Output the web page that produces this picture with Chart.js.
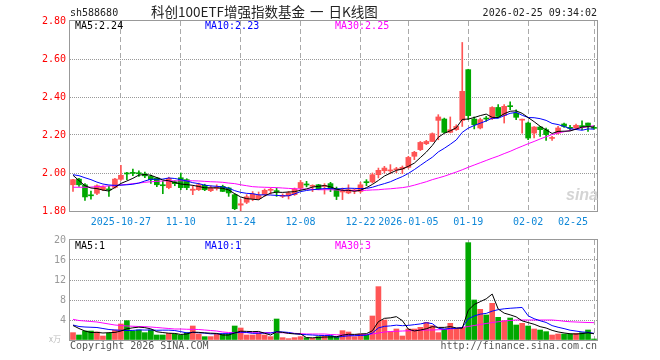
<!DOCTYPE html>
<html>
<head>
<meta charset="utf-8">
<script src="https://cdn.jsdelivr.net/npm/chart.js@4.4.1/dist/chart.umd.min.js"></script>
<style>
body { margin: 0; background: #fff; width: 660px; height: 360px; position: relative; overflow: hidden;
       font-family: "DejaVu Sans Mono", monospace; font-size: 10px; }
canvas { position: absolute; left: 0; }
#price { top: 0; }
#vol { top: 230px; }
.t { position: absolute; white-space: pre; line-height: 10px; }
</style>
</head>
<body>
<canvas id="price" width="660" height="230"></canvas>
<canvas id="vol" width="660" height="130"></canvas>

<div class="t" style="left:70px;top:8px;color:#222">sh588680</div>
<div class="t" style="left:151px;top:5px;color:#222;font:13.5px 'Noto Sans CJK SC';line-height:13.5px;word-spacing:2px">科创100ETF增强指数基金 一 日K线图</div>
<div class="t" style="right:63px;top:8px;color:#222">2026-02-25 09:34:02</div>

<div class="t" id="pMa5" style="left:75px;top:21px;color:#000"></div>
<div class="t" id="pMa10" style="left:205px;top:21px;color:#0000ff"></div>
<div class="t" id="pMa30" style="left:335px;top:21px;color:#ff00ff"></div>
<div class="t" style="left:566px;top:187px;color:#d4d4d4;font:italic bold 16px 'Liberation Sans';line-height:16px">sina</div>

<div class="t" id="vMa5" style="left:75px;top:241px;color:#000"></div>
<div class="t" id="vMa10" style="left:205px;top:241px;color:#0000ff"></div>
<div class="t" id="vMa30" style="left:335px;top:241px;color:#ff00ff"></div>
<div class="t" style="left:49px;top:335px;color:#bbb;font:8px 'Noto Sans CJK SC';line-height:8px">x万</div>
<div class="t" style="left:70px;top:341px;color:#555">Copyright 2026 SINA.COM</div>
<div class="t" style="right:63px;top:341px;color:#555">http://finance.sina.com.cn</div>

<script>
// trading days shown on the chart
const dates = [
  "2025-10-15","2025-10-16","2025-10-17","2025-10-20","2025-10-21","2025-10-22","2025-10-23","2025-10-24",
  "2025-10-27","2025-10-28","2025-10-29","2025-10-30","2025-10-31","2025-11-03","2025-11-04","2025-11-05",
  "2025-11-06","2025-11-07","2025-11-10","2025-11-11","2025-11-12","2025-11-13","2025-11-14","2025-11-17",
  "2025-11-18","2025-11-19","2025-11-20","2025-11-21","2025-11-24","2025-11-25","2025-11-26","2025-11-27",
  "2025-11-28","2025-12-01","2025-12-02","2025-12-03","2025-12-04","2025-12-05","2025-12-08","2025-12-09",
  "2025-12-10","2025-12-11","2025-12-12","2025-12-15","2025-12-16","2025-12-17","2025-12-18","2025-12-19",
  "2025-12-22","2025-12-23","2025-12-24","2025-12-25","2025-12-26","2025-12-29","2025-12-30","2025-12-31",
  "2026-01-05","2026-01-06","2026-01-07","2026-01-08","2026-01-09","2026-01-12","2026-01-13","2026-01-14",
  "2026-01-15","2026-01-16","2026-01-19","2026-01-20","2026-01-21","2026-01-22","2026-01-23","2026-01-26",
  "2026-01-27","2026-01-28","2026-01-29","2026-01-30","2026-02-02","2026-02-03","2026-02-04","2026-02-05",
  "2026-02-06","2026-02-09","2026-02-10","2026-02-11","2026-02-12","2026-02-13","2026-02-24","2026-02-25"
];

// dates that get a label and a dashed grid line
const tickDates = ["2025-10-27","2025-11-10","2025-11-24","2025-12-08","2025-12-22","2026-01-05","2026-01-19","2026-02-02","2026-02-25"];
const tickText  = ["2025-10-27","11-10","11-24","12-08","12-22","2026-01-05","01-19","02-02","02-25"];

const open = [
  1.938,1.968,1.938,1.884,1.893,1.912,1.915,1.924,1.967,2.000,
  2.001,2.000,1.995,1.982,1.974,1.937,1.923,1.954,1.975,1.965,
  1.909,1.912,1.935,1.907,1.919,1.930,1.921,1.886,1.831,1.846,
  1.865,1.865,1.886,1.909,1.905,1.877,1.880,1.886,1.921,1.940,
  1.930,1.938,1.930,1.944,1.916,1.900,1.895,1.905,1.903,1.953,
  1.953,1.991,2.012,2.011,2.017,2.021,2.030,2.088,2.123,2.154,
  2.166,2.277,2.284,2.214,2.228,2.277,2.544,2.284,2.237,2.287,
  2.286,2.345,2.303,2.353,2.316,2.278,2.263,2.210,2.242,2.228,
  2.182,2.210,2.258,2.238,2.237,2.247,2.263,2.238
];
const close = [
  1.965,1.938,1.874,1.880,1.933,1.926,1.911,1.968,1.988,1.995,
  1.998,1.996,1.985,1.965,1.938,1.933,1.972,1.944,1.923,1.923,
  1.915,1.938,1.912,1.921,1.923,1.903,1.895,1.812,1.838,1.875,
  1.890,1.882,1.909,1.914,1.902,1.882,1.895,1.916,1.950,1.937,
  1.933,1.916,1.933,1.916,1.877,1.905,1.912,1.911,1.938,1.949,
  1.991,2.014,2.026,2.016,2.021,2.030,2.082,2.109,2.161,2.166,
  2.207,2.295,2.214,2.228,2.245,2.430,2.302,2.254,2.281,2.284,
  2.345,2.298,2.351,2.349,2.293,2.281,2.184,2.242,2.228,2.202,
  2.186,2.237,2.245,2.235,2.251,2.244,2.245,2.235
];
const high = [
  1.967,1.972,1.944,1.905,1.938,1.933,1.930,1.972,2.040,2.003,
  2.021,2.012,2.005,1.989,1.977,1.956,1.978,1.959,2.000,1.970,
  1.933,1.947,1.941,1.933,1.938,1.936,1.925,1.891,1.862,1.886,
  1.902,1.900,1.916,1.921,1.921,1.890,1.903,1.921,1.961,1.956,
  1.938,1.940,1.944,1.951,1.926,1.921,1.938,1.916,1.951,1.965,
  2.000,2.026,2.035,2.044,2.030,2.037,2.088,2.114,2.166,2.172,
  2.211,2.307,2.289,2.295,2.254,2.687,2.546,2.295,2.289,2.298,
  2.349,2.360,2.360,2.374,2.333,2.284,2.268,2.244,2.245,2.237,
  2.193,2.245,2.263,2.251,2.258,2.275,2.263,2.249
];
const low = [
  1.903,1.929,1.856,1.862,1.886,1.907,1.877,1.920,1.961,1.965,
  1.986,1.982,1.975,1.945,1.928,1.891,1.917,1.933,1.912,1.912,
  1.886,1.908,1.907,1.902,1.910,1.902,1.877,1.807,1.798,1.839,
  1.854,1.860,1.877,1.889,1.877,1.870,1.863,1.882,1.912,1.927,
  1.902,1.912,1.889,1.902,1.860,1.860,1.891,1.891,1.895,1.933,
  1.947,1.974,2.000,1.996,2.002,1.996,2.026,2.070,2.118,2.149,
  2.165,2.175,2.211,2.211,2.224,2.245,2.281,2.232,2.232,2.272,
  2.281,2.293,2.263,2.333,2.281,2.210,2.175,2.184,2.193,2.172,
  2.172,2.205,2.240,2.223,2.233,2.228,2.219,2.231
];

const ma5 = [
  1.988,1.960,1.933,1.921,1.918,1.910,1.905,1.924,1.945,1.958,
  1.972,1.989,1.992,1.988,1.976,1.963,1.959,1.950,1.942,1.939,
  1.935,1.929,1.922,1.922,1.922,1.919,1.911,1.891,1.874,1.865,
  1.862,1.859,1.879,1.894,1.899,1.898,1.900,1.902,1.909,1.916,
  1.926,1.930,1.934,1.927,1.915,1.909,1.909,1.904,1.909,1.923,
  1.940,1.961,1.984,1.999,2.014,2.021,2.035,2.052,2.081,2.110,
  2.145,2.188,2.209,2.222,2.238,2.282,2.284,2.292,2.302,2.310,
  2.293,2.292,2.312,2.325,2.327,2.314,2.292,2.270,2.246,2.227,
  2.208,2.219,2.220,2.221,2.231,2.242,2.244,2.242
];
const ma10 = [
  1.991,1.986,1.975,1.965,1.952,1.942,1.937,1.935,1.936,1.938,
  1.941,1.947,1.958,1.967,1.967,1.968,1.974,1.971,1.965,1.958,
  1.949,1.944,1.936,1.932,1.930,1.927,1.920,1.907,1.898,1.893,
  1.891,1.885,1.885,1.884,1.882,1.880,1.880,1.890,1.902,1.908,
  1.912,1.915,1.918,1.918,1.916,1.918,1.920,1.919,1.918,1.919,
  1.925,1.935,1.944,1.954,1.968,1.981,1.998,2.018,2.040,2.062,
  2.083,2.111,2.130,2.151,2.174,2.214,2.236,2.250,2.262,2.274,
  2.288,2.288,2.302,2.314,2.319,2.304,2.292,2.291,2.286,2.277,
  2.261,2.255,2.245,2.233,2.229,2.225,2.232,2.231
];
const ma30 = [
  1.925,1.925,1.925,1.926,1.928,1.930,1.932,1.933,1.937,1.940,
  1.944,1.947,1.951,1.954,1.956,1.958,1.959,1.959,1.959,1.959,
  1.959,1.958,1.956,1.954,1.953,1.951,1.947,1.944,1.938,1.933,
  1.928,1.926,1.925,1.924,1.923,1.921,1.919,1.917,1.916,1.915,
  1.914,1.912,1.912,1.912,1.911,1.909,1.908,1.908,1.908,1.909,
  1.911,1.912,1.915,1.917,1.920,1.923,1.928,1.936,1.945,1.954,
  1.965,1.974,1.983,1.994,2.005,2.017,2.030,2.042,2.054,2.066,
  2.078,2.089,2.102,2.114,2.128,2.141,2.154,2.166,2.179,2.191,
  2.202,2.211,2.217,2.224,2.232,2.238,2.244,2.249
];

// volume, 万手
const volume = [
  1.47,1.0,1.8,1.8,1.6,0.8,1.33,2.0,3.2,3.87,
  1.8,2.0,1.47,2.0,1.0,1.0,1.33,1.2,1.0,1.47,
  2.8,1.2,0.67,0.67,1.2,1.2,1.2,2.8,2.4,1.0,
  1.0,1.33,1.0,0.67,4.2,0.47,0.27,0.47,0.67,0.47,
  0.33,0.67,0.8,0.8,0.67,1.87,1.6,0.67,1.2,1.0,
  4.8,10.67,4.0,1.67,2.2,0.8,2.2,2.2,2.53,3.53,
  2.87,1.47,2.2,3.33,2.2,2.53,19.47,8.0,6.13,5.0,
  7.33,4.53,3.87,4.4,3.0,3.33,2.8,2.2,2.0,1.67,
  1.0,1.2,1.2,1.2,1.33,1.47,2.0,0.2
];
const volMa5 = [
  2.9,2.3,1.8,1.5,1.53,1.40,1.47,1.51,1.79,2.24,
  2.44,2.57,2.47,2.23,1.65,1.49,1.36,1.31,1.11,1.20,
  1.56,1.53,1.43,1.36,1.31,0.99,0.99,1.41,1.76,1.72,
  1.68,1.71,1.35,1.00,1.64,1.53,1.32,1.22,1.22,0.47,
  0.44,0.52,0.59,0.61,0.65,0.96,1.15,1.12,1.20,1.27,
  1.85,3.67,4.33,4.43,4.67,3.87,2.17,1.81,1.99,2.25,
  2.67,2.52,2.52,2.68,2.41,2.35,5.95,7.11,7.67,8.23,
  9.19,6.20,5.37,5.03,4.63,3.83,3.48,3.15,2.67,2.40,
  1.93,1.61,1.41,1.25,1.19,1.28,1.44,1.24
];
const volMa10 = [
  3.0,2.7,2.6,2.55,2.5,2.3,2.1,2.0,1.95,1.89,
  1.92,2.02,1.99,2.01,1.95,1.97,1.97,1.89,1.67,1.43,
  1.53,1.45,1.37,1.23,1.25,1.27,1.26,1.42,1.56,1.51,
  1.33,1.35,1.38,1.38,1.68,1.61,1.51,1.28,1.11,1.06,
  0.99,0.92,0.90,0.92,0.56,0.70,0.84,0.86,0.91,0.96,
  1.41,2.41,2.73,2.82,2.97,2.86,2.92,3.07,3.21,3.46,
  3.27,2.35,2.17,2.33,2.33,2.51,4.23,4.81,5.17,5.32,
  5.77,6.07,6.24,6.35,6.43,6.51,4.84,4.26,3.85,3.51,
  2.88,2.55,2.28,1.96,1.79,1.61,1.53,1.33
];
const volMa30 = [
  4.13,3.9,3.8,3.7,3.6,3.4,3.2,3.0,2.9,2.8,
  2.75,2.7,2.67,2.6,2.5,2.4,2.3,2.2,2.2,2.15,
  2.13,2.1,2.0,1.9,1.8,1.6,1.5,1.47,1.47,1.47,
  1.47,1.47,1.47,1.47,1.47,1.45,1.4,1.33,1.27,1.2,
  1.2,1.2,1.2,1.1,1.05,1.0,1.0,1.0,1.05,1.1,
  1.2,1.4,1.6,1.7,1.75,1.8,1.85,1.9,1.95,2.0,
  2.0,2.05,2.1,2.2,2.3,2.5,2.7,2.9,3.1,3.3,
  3.5,3.65,3.8,3.9,4.0,4.0,4.0,4.0,4.0,4.0,
  4.0,3.9,3.75,3.65,3.6,3.55,3.5,3.47
];

const RED = "#ff5555";
const GREEN = "#00a800";
const GRID = "#aaaaaa";

Chart.defaults.font.family = '"DejaVu Sans Mono", monospace';
Chart.defaults.font.size = 10;
Chart.defaults.animation = false;

const isUp = i => close[i] >= open[i];
const candleColor = ctx => isUp(ctx.dataIndex) ? RED : GREEN;
const shown = {};
tickDates.forEach((d, k) => { shown[d] = tickText[k]; });

// legends built from the last moving average values
document.getElementById("pMa5").textContent = "MA5:" + ma5[ma5.length - 1].toFixed(2);
document.getElementById("pMa10").textContent = "MA10:" + ma10[ma10.length - 1].toFixed(2);
document.getElementById("pMa30").textContent = "MA30:" + ma30[ma30.length - 1].toFixed(2);
document.getElementById("vMa5").textContent = "MA5:" + volMa5[volMa5.length - 1].toFixed(0);
document.getElementById("vMa10").textContent = "MA10:" + volMa10[volMa10.length - 1].toFixed(0);
document.getElementById("vMa30").textContent = "MA30:" + volMa30[volMa30.length - 1].toFixed(0);

// box round the plot area
const frame = {
  id: "frame",
  afterDraw(chart) {
    const { ctx, chartArea: a } = chart;
    ctx.save();
    ctx.strokeStyle = "#999";
    ctx.lineWidth = 1;
    ctx.strokeRect(Math.round(a.left) - 0.5, Math.round(a.top) - 0.5,
                   Math.round(a.right - a.left) + 1, Math.round(a.bottom - a.top) + 1);
    ctx.restore();
  }
};

const maLine = (data, color) => ({
  type: "line", data, borderColor: color, borderWidth: 1,
  pointRadius: 0, tension: 0, order: 0
});

const lastIndex = dates.length - 1;
const xScale = showLabels => ({
  offset: true,
  grid: {
    offset: false,
    drawTicks: false,
    color: c => shown[dates[c.index]] ? GRID : "rgba(0,0,0,0)"
  },
  border: { display: false, dash: [5, 3] },
  ticks: {
    display: showLabels,
    autoSkip: false,
    maxRotation: 0,
    align: "inner",
    padding: 5,
    color: "#1088d8",
    // last label sits a little inside the right edge
    callback: (v, i) => (shown[dates[i]] || "") + (i === lastIndex ? " " : "")
  },
  afterFit: s => { s.height = showLabels ? 19 : 20; }
});

new Chart(document.getElementById("price"), {
  type: "bar",
  data: {
    labels: dates,
    datasets: [
      maLine(ma5, "#000000"),
      maLine(ma10, "#0000ff"),
      maLine(ma30, "#ff00ff"),
      {
        data: dates.map((d, i) => [Math.min(open[i], close[i]), Math.max(open[i], close[i])]),
        backgroundColor: candleColor, barThickness: 5, minBarLength: 1, grouped: false, order: 1
      },
      {
        data: dates.map((d, i) => [low[i], high[i]]),
        backgroundColor: candleColor, barThickness: 1, grouped: false, order: 2
      }
    ]
  },
  options: {
    responsive: false,
    layout: { padding: { left: 0, right: 63, top: 21, bottom: 0 } },
    plugins: { legend: { display: false }, tooltip: { enabled: false } },
    scales: {
      x: xScale(true),
      y: {
        min: 1.8, max: 2.8,
        ticks: { stepSize: 0.2, color: "#ff0000", padding: 4, callback: v => v.toFixed(2) },
        grid: { drawTicks: false, color: c => (c.tick.value > 1.81 && c.tick.value < 2.79) ? "#999" : "rgba(0,0,0,0)" },
        border: { display: false, dash: [1, 1] },
        afterFit: s => { s.width = 70; }
      }
    }
  },
  plugins: [frame]
});

new Chart(document.getElementById("vol"), {
  type: "bar",
  data: {
    labels: dates,
    datasets: [
      maLine(volMa5, "#000000"),
      maLine(volMa10, "#0000ff"),
      maLine(volMa30, "#ff00ff"),
      { data: volume, backgroundColor: candleColor, barThickness: 5, grouped: false, order: 1 }
    ]
  },
  options: {
    responsive: false,
    layout: { padding: { left: 0, right: 63, top: 10, bottom: 0 } },
    plugins: { legend: { display: false }, tooltip: { enabled: false } },
    scales: {
      x: xScale(false),
      y: {
        min: 0, max: 20,
        ticks: { stepSize: 4, color: "#999", padding: 4, callback: v => v === 0 ? "" : v },
        grid: { drawTicks: false, color: c => (c.tick.value > 0 && c.tick.value < 20) ? "#999" : "rgba(0,0,0,0)" },
        border: { display: false, dash: [1, 1] },
        afterFit: s => { s.width = 70; }
      }
    }
  },
  plugins: [frame]
});
</script>
</body>
</html>
